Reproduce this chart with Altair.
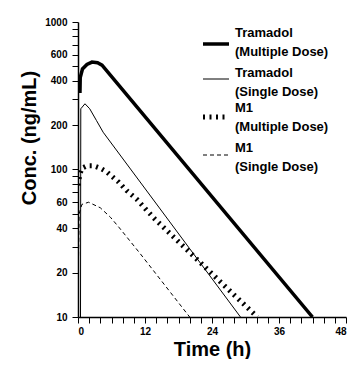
import altair as alt
import pandas as pd

# ---- data ----
series_names = [
    "Tramadol (Multiple Dose)",
    "Tramadol (Single Dose)",
    "M1 (Multiple Dose)",
    "M1 (Single Dose)",
]

tram_multi_t = [0.35, 0.4, 0.8, 1.6, 2.5, 3.5, 4.3, 42.0]
tram_multi_v = [330, 420, 480, 515, 535, 530, 510, 10]

tram_single_t = [0.45, 0.5, 1.25, 2.1, 3.3, 4.5, 29.1]
tram_single_v = [10, 258, 279, 258, 215, 179, 10]

m1_multi_t = [0.05, 0.3, 0.7, 1.6, 2.8, 4.0, 5.2, 6.2, 7.3, 8.7, 10.5, 12.1, 13.8, 32.1]
m1_multi_v = [78, 92, 102, 106, 106, 102, 96, 89, 82, 72, 63, 54, 46, 10]

m1_single_t = [0.1, 0.2, 0.7, 1.9, 4.0, 5.8, 7.3, 8.7, 11.1, 20.0]
m1_single_v = [26, 50, 58, 60, 55, 47.5, 40.7, 35, 27, 10]

y_tick_values = [10, 20, 30, 40, 50, 60, 70, 80, 90, 100,
                 200, 300, 400, 500, 600, 700, 800, 900, 1000]
y_label_values = [10, 20, 40, 60, 100, 200, 400, 600, 1000]
x_tick_values = list(range(0, 49, 2))
x_label_values = [0, 12, 24, 36, 48]

y_title = "Conc. (ng/mL)"
x_title = "Time (h)"

legend_lines = [
    ["Tramadol", "(Multiple Dose)"],
    ["Tramadol", "(Single Dose)"],
    ["M1", "(Multiple Dose)"],
    ["M1", "(Single Dose)"],
]

frames = []
for name, ts, vs in zip(series_names,
                        [tram_multi_t, tram_single_t, m1_multi_t, m1_single_t],
                        [tram_multi_v, tram_single_v, m1_multi_v, m1_single_v]):
    frames.append(pd.DataFrame({"series": name, "t": ts, "v": vs, "order": range(len(ts))}))
df = pd.concat(frames, ignore_index=True)

styles = {
    "Tramadol (Multiple Dose)": dict(strokeWidth=3.5),
    "Tramadol (Single Dose)": dict(strokeWidth=1),
    "M1 (Multiple Dose)": dict(strokeWidth=5, strokeDash=[2, 4.5]),
    "M1 (Single Dose)": dict(strokeWidth=1, strokeDash=[4, 3]),
}

FONT = "Liberation Sans"

y_labels_js = "[" + ",".join(str(v) for v in y_label_values) + "]"
x_labels_js = "[" + ",".join(str(v) for v in x_label_values) + "]"

x_enc = alt.X(
    "t:Q",
    scale=alt.Scale(domain=[0, 48], nice=False, zero=False),
    axis=alt.Axis(
        title=x_title,
        values=x_tick_values,
        labelExpr=f"indexof({x_labels_js}, datum.value) >= 0 ? datum.label : ''",
        grid=False,
        tickSize=6,
        tickColor="black",
        domainColor="black",
        domainWidth=1.5,
        labelFont=FONT,
        labelFontWeight="bold",
        labelFontSize=10,
        labelColor="black",
        labelPadding=3,
        titleFont=FONT,
        titleFontSize=20,
        titleFontWeight="bold",
        titleColor="black",
        titlePadding=3,
    ),
)
y_enc = alt.Y(
    "v:Q",
    scale=alt.Scale(type="log", domain=[10, 1000], nice=False),
    axis=alt.Axis(
        title=None,
        values=y_tick_values,
        format="d",
        labelExpr=f"indexof({y_labels_js}, datum.value) >= 0 ? datum.label : ''",
        grid=False,
        tickSize=6,
        tickColor="black",
        domainColor="black",
        domainWidth=1.5,
        labelFont=FONT,
        labelFontWeight="bold",
        labelFontSize=10,
        labelColor="black",
        labelPadding=5,
    ),
)

base = alt.Chart(df)
layers = []
for name in series_names:
    layers.append(
        base.transform_filter(alt.datum.series == name)
        .mark_line(color="black", clip=True, strokeCap="butt", **styles[name])
        .encode(x=x_enc, y=y_enc, order="order:Q")
    )

one_row = alt.Chart(df).transform_aggregate(n="count()")

# y-axis title, placed off-centre as in the reference
layers.append(
    one_row.mark_text(angle=270, align="center", baseline="middle", font=FONT,
                      fontSize=20, fontWeight="bold", color="black")
    .encode(x=alt.value(-48), y=alt.value(116), text=alt.value(y_title))
)

# manual legend (positions relative to the plot area, whose top-left is at page (78, 22))
sym_y = [22, 57, 95, 133]
txt_y = [15, 55, 90, 130]   # baseline of first line
for i, name in enumerate(series_names):
    st = styles[name]
    rule_kwargs = dict(color="black", strokeWidth=st["strokeWidth"])
    if "strokeDash" in st:
        rule_kwargs["strokeDash"] = st["strokeDash"]
    layers.append(
        one_row.mark_rule(**rule_kwargs)
        .encode(x=alt.value(125), x2=alt.value(151), y=alt.value(sym_y[i]))
    )
    layers.append(
        one_row.mark_text(align="left", baseline="alphabetic", font=FONT, fontSize=13,
                          fontWeight="bold", color="black", lineHeight=19)
        .encode(x=alt.value(157), y=alt.value(txt_y[i]), text=alt.value(legend_lines[i]))
    )

chart = alt.layer(*layers).properties(
    width=268,
    height=295,
    autosize=alt.AutoSizeParams(type="none"),
    padding={"left": 70, "top": 14, "right": 5, "bottom": 42},
).configure_view(stroke=None)

chart.save("out.html", embed_options={"renderer": "svg", "actions": False})
